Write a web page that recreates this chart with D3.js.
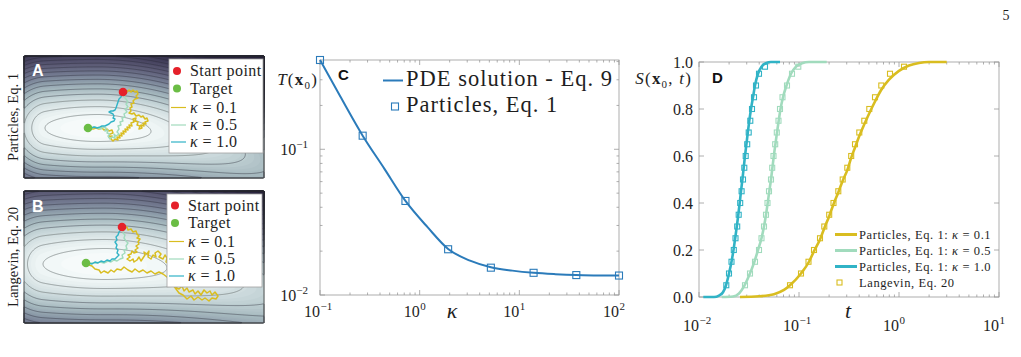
<!DOCTYPE html>
<html><head><meta charset="utf-8">
<script src="https://cdn.jsdelivr.net/npm/d3@7"></script>
<style>body{margin:0;background:#fff}svg{display:block}</style>
</head><body>
<svg id="fig" width="1021" height="357"></svg>
<script>
// ---------------- DATA ----------------
// Panel C
const kappaParticles = [0.1, 0.268, 0.72, 1.93, 5.18, 13.9, 37.3, 100];
const tParticles = [0.41, 0.124, 0.0442, 0.0206, 0.0154, 0.0142, 0.0137, 0.0136];
const kappaPDE = [0.1, 0.16, 0.268, 0.44, 0.72, 1.2, 1.93, 3.2, 5.18, 8.5, 13.9, 23, 37.3, 61, 100];
const tPDE = [0.41, 0.23, 0.124, 0.074, 0.0442, 0.0292, 0.0207, 0.0172, 0.0155, 0.0147, 0.0142, 0.0139, 0.0137, 0.0136, 0.0136];
const cXTicks = [0.1, 1, 10, 100];
const cXTickExp = ["\u22121", "0", "1", "2"];
const cYTicks = [0.01, 0.1];
const cYTickExp = ["\u22122", "\u22121"];

// Panel D (times given as log10 t)
const survivalMarks = [0.05,0.10,0.15,0.20,0.25,0.30,0.35,0.40,0.45,0.50,0.55,0.60,0.65,0.70,0.75,0.80,0.85,0.90,0.95,0.98];
const langevinLogT_k01 = [-1.09,-0.98,-0.905,-0.85,-0.79,-0.747,-0.698,-0.655,-0.607,-0.563,-0.517,-0.478,-0.44,-0.397,-0.347,-0.297,-0.24,-0.177,-0.09,0.05];
const langevinLogT_k05 = [-1.54,-1.49,-1.44,-1.40,-1.375,-1.35,-1.33,-1.315,-1.30,-1.28,-1.268,-1.255,-1.238,-1.222,-1.205,-1.19,-1.165,-1.12,-1.07,-1.007];
const langevinLogT_k10 = [-1.727,-1.70,-1.675,-1.652,-1.635,-1.618,-1.603,-1.588,-1.574,-1.56,-1.547,-1.533,-1.518,-1.503,-1.487,-1.47,-1.45,-1.43,-1.40,-1.34];

const curveLogT_k01 = [-1.59,-1.4,-1.25,-1.15,-1.09,-0.98,-0.90,-0.85,-0.79,-0.745,-0.697,-0.655,-0.607,-0.563,-0.517,-0.48,-0.44,-0.397,-0.347,-0.297,-0.24,-0.18,-0.10,0.0,0.1,0.2,0.3,0.477];
const curveS_k01    = [0,0.003,0.012,0.03,0.05,0.10,0.15,0.195,0.245,0.295,0.345,0.395,0.445,0.495,0.54,0.59,0.636,0.685,0.735,0.782,0.832,0.88,0.925,0.962,0.985,0.996,1.0,1.0];
const curveLogT_k05 = [-1.773,-1.66,-1.6,-1.55,-1.5,-1.45,-1.41,-1.375,-1.35,-1.33,-1.313,-1.297,-1.28,-1.266,-1.252,-1.236,-1.22,-1.203,-1.185,-1.16,-1.125,-1.08,-1.03,-0.97,-0.9,-0.723];
const curveS_k05    = [0,0.002,0.015,0.045,0.09,0.145,0.2,0.25,0.3,0.35,0.4,0.45,0.5,0.55,0.6,0.65,0.7,0.75,0.8,0.85,0.9,0.95,0.98,0.995,1.0,1.0];
const curveLogT_k10 = [-1.957,-1.85,-1.8,-1.76,-1.73,-1.70,-1.675,-1.655,-1.638,-1.622,-1.607,-1.593,-1.58,-1.566,-1.553,-1.54,-1.526,-1.512,-1.497,-1.48,-1.46,-1.44,-1.41,-1.375,-1.33,-1.28,-1.19];
const curveS_k10    = [0,0,0.006,0.02,0.05,0.1,0.15,0.2,0.25,0.3,0.35,0.4,0.45,0.5,0.55,0.6,0.65,0.7,0.75,0.8,0.85,0.9,0.95,0.98,0.995,1.0,1.0];
const dXTicks = [0.01, 0.1, 1, 10];
const dXTickExp = ["\u22122", "\u22121", "0", "1"];
const dYTicks = [0, 0.2, 0.4, 0.6, 0.8, 1.0];
const dYTickLabels = ["0.0", "0.2", "0.4", "0.6", "0.8", "1.0"];
const dLegendLabels = ["0.1", "0.5", "1.0"];

// Panels A/B: potential landscape parameters (image units) and contour levels
const wellA = {cx: 74, cy: 72, ax: 53, by: 13.5, bend: 0.25, steepL: 16, pr: 1.8};
const wellB = {cx: 81, cy: 73, ax: 62, by: 15.5, bend: 0.25, steepL: 16, pr: 1.8};
const contourLevels = [1, 2.5, 4.3, 6.3, 8.4, 10.7, 13, 15.4, 17.9, 20.5, 23.1, 25.8, 28.5, 31.3, 34.1, 37, 40, 43, 46, 49, 52, 55, 58, 61, 64];
const startA = [99, 36], targetA = [64, 72];
const startB = [98, 36], targetB = [62, 72];
const trajA_k01 = [[99,36],[101,34],[103,36],[105,34],[107,36],[109,34],[111,36],[113,35],[114,38],[112,40],[114,42],[111,43],[109,45],[110,47],[107,48],[108,51],[106,52],[107,55],[105,57],[108,58],[110,57],[112,60],[115,59],[117,61],[119,60],[121,63],[123,62],[124,65],[121,66],[122,68],[119,67],[120,70],[117,69],[118,72],[115,73],[116,70],[113,69],[114,66],[111,65],[112,62],[109,63],[110,66],[107,67],[108,70],[105,69],[106,72],[103,71],[104,74],[101,73],[102,76],[99,75],[100,78],[97,77],[98,80],[95,79],[96,82],[93,81],[94,84],[91,83],[89,85],[87,83],[88,80],[85,81],[86,78],[89,77],[88,74],[85,75],[83,73],[80,74],[78,72],[75,73],[72,72],[69,73],[66,72],[64,72]];
const trajA_k05 = [[99,36],[101,39],[100,41],[102,43],[104,46],[102,48],[104,51],[101,53],[103,56],[100,58],[101,61],[98,62],[99,65],[96,66],[97,69],[94,70],[95,73],[93,76],[95,78],[92,80],[90,78],[91,82],[88,81],[86,83],[84,80],[86,78],[83,77],[84,74],[81,75],[82,72],[79,71],[77,73],[74,72],[71,71],[68,72],[64,72]];
const trajA_k10 = [[99,36],[98,38],[97,41],[95,43],[94,46],[93,49],[92,52],[91,54],[89,55],[87,55],[85,56],[87,57],[89,58],[90,60],[89,62],[91,63],[90,65],[87,66],[85,68],[83,69],[81,70],[78,70],[76,71],[73,72],[70,71],[67,72],[64,72]];
const trajB_k01 = [[98,36],[100,38],[103,36],[104,39],[107,38],[109,41],[112,40],[113,43],[115,45],[113,47],[116,48],[114,51],[115,53],[112,55],[114,57],[111,59],[113,61],[110,62],[108,60],[107,63],[104,64],[106,66],[103,68],[106,70],[109,68],[110,71],[113,69],[115,66],[117,70],[119,67],[121,64],[120,61],[123,63],[125,60],[124,66],[127,68],[129,64],[132,66],[131,62],[134,60],[137,63],[135,66],[139,68],[141,64],[143,67],[142,71],[145,73],[146,77],[149,80],[147,84],[150,87],[152,92],[151,96],[155,98],[158,95],[160,100],[163,97],[165,101],[169,99],[171,103],[174,100],[177,104],[180,99],[183,102],[186,100],[188,104],[191,101],[194,105],[192,108],[188,107],[185,110],[181,107],[178,109],[174,106],[170,109],[167,105],[163,108],[159,104],[155,102],[152,98],[149,94],[146,90],[143,86],[139,83],[135,81],[131,83],[127,80],[123,82],[119,79],[115,81],[111,78],[108,81],[104,79],[100,76],[97,79],[93,78],[90,81],[87,79],[84,82],[80,80],[77,82],[75,79],[71,78],[68,75],[65,74],[62,72]];
const trajB_k05 = [[98,36],[100,39],[99,42],[101,44],[100,47],[102,50],[104,52],[102,55],[103,58],[100,59],[101,62],[98,64],[99,67],[96,68],[93,70],[90,69],[87,71],[84,70],[80,72],[76,71],[72,72],[68,72],[65,73],[62,72]];
const trajB_k10 = [[98,36],[97,39],[95,41],[94,44],[92,46],[93,49],[91,51],[93,54],[92,57],[94,59],[93,62],[95,64],[93,66],[91,68],[88,68],[86,70],[83,69],[80,71],[77,70],[74,72],[71,71],[68,73],[65,72],[62,72]];

// ---------------- STYLE ----------------
const SERIF = "'Liberation Serif','Times New Roman',serif";
const SANS = "'Liberation Sans',Arial,sans-serif";
const YEL = "#d9bd20", GRN = "#a1dbbd", CYN = "#31b3c6", BLU = "#2b7bba";
const AXC = "#9a9a9a", TXT = "#1e1e1e";

const svg = d3.select("#fig");

// ---------------- PANELS A & B ----------------
const potColor = d3.scaleLinear()
  .domain([0, 1, 2.5, 5, 8, 12, 16, 21, 27, 34, 44])
  .range(['#f6fafa','#eef5f5','#dfe9ea','#c6d5d8','#a9bcc1','#8b9aa8','#737a90','#5f5f79','#4a4763','#37324d','#28233c'])
  .clamp(true);

function potential(ix, iy, w) {
  const u = (ix - w.cx) / w.ax, v = (iy - w.cy) / w.by;
  let fx;
  if (u < 0) { const a = -u; fx = a <= 1 ? a * a : 1 + 2 * (a - 1) + w.steepL * (a - 1) * (a - 1); }
  else fx = Math.pow(u, w.pr);
  const dv = v - (u > 0 ? w.bend * u * u : 0);
  return fx + dv * dv;
}

function drawLandscape(cfg) {
  const g = svg.append("g");
  const x = d3.scaleLinear().domain([0, cfg.w]).range([cfg.x0, cfg.x0 + cfg.w]);
  const y = d3.scaleLinear().domain([0, cfg.h]).range([cfg.y0, cfg.y0 + cfg.h]);
  const vals = new Float64Array(cfg.w * cfg.h);
  for (let j = 0; j < cfg.h; j++)
    for (let i = 0; i < cfg.w; i++) vals[j * cfg.w + i] = potential(i + 0.5, j + 0.5, cfg.well);
  const proj = d3.geoIdentity().scale(x(1) - x(0)).translate([x(0), y(0)]);
  const path = d3.geoPath(proj);
  const bands = d3.contours().size([cfg.w, cfg.h]).thresholds(d3.range(0, 70, 0.5))(vals);
  g.append("g").selectAll("path").data(bands).join("path")
    .attr("d", path).attr("fill", d => potColor(d.value)).attr("stroke", "none");
  const lines = d3.contours().size([cfg.w, cfg.h]).thresholds(contourLevels)(vals);
  g.append("g").selectAll("path").data(lines).join("path")
    .attr("d", path).attr("fill", "none")
    .attr("stroke", d => d.value < 6 ? "#6d7474" : "#262634")
    .attr("stroke-opacity", d => d.value < 6 ? 0.8 : 0.55).attr("stroke-width", 0.8);

  const line = d3.line().x(d => x(d[0])).y(d => y(d[1]));
  [[cfg.trajs[0], YEL, 1.5], [cfg.trajs[1], GRN, 1.4], [cfg.trajs[2], CYN, 1.4]].forEach(([tr, c, w]) => {
    g.append("path").datum(tr).attr("d", line).attr("fill", "none")
      .attr("stroke", c).attr("stroke-width", w).attr("stroke-linejoin", "round");
  });
  g.append("circle").attr("cx", x(cfg.target[0])).attr("cy", y(cfg.target[1])).attr("r", 4.3).attr("fill", "#6bbd45");
  g.append("circle").attr("cx", x(cfg.start[0])).attr("cy", y(cfg.start[1])).attr("r", 4.3).attr("fill", "#e5202a");

  g.append("text").attr("x", cfg.x0 + 8).attr("y", cfg.letterY).text(cfg.letter)
    .attr("font-family", SANS).attr("font-weight", "bold").attr("font-size", 16).attr("fill", "#fff");
  g.append("text").attr("transform", `translate(17.5,${cfg.y0 + cfg.h / 2}) rotate(-90)`)
    .attr("text-anchor", "middle").attr("font-family", SERIF).attr("font-size", 14.5).attr("fill", TXT)
    .text(cfg.side);

  const L = cfg.legend;
  g.append("rect").attr("x", L.x).attr("y", L.y).attr("width", L.w).attr("height", L.h)
    .attr("fill", "#fff").attr("stroke", "#a0a0a0").attr("stroke-width", 0.8);
  const items = [
    {type: "dot", color: "#e5202a", label: "Start point"},
    {type: "dot", color: "#6bbd45", label: "Target"},
    {type: "line", color: YEL, k: "0.1"},
    {type: "line", color: GRN, k: "0.5"},
    {type: "line", color: CYN, k: "1.0"}
  ];
  items.forEach((it, i) => {
    const cy = L.rows[i];
    if (it.type === "dot") g.append("circle").attr("cx", L.x + 8).attr("cy", cy).attr("r", 4).attr("fill", it.color);
    else g.append("line").attr("x1", L.x + 2).attr("x2", L.x + 17).attr("y1", cy).attr("y2", cy)
      .attr("stroke", it.color).attr("stroke-width", 1.2);
    const t = g.append("text").attr("x", L.x + 21).attr("y", cy + 5.2)
      .attr("font-family", SERIF).attr("font-size", 16).attr("letter-spacing", 0.4).attr("fill", TXT);
    if (it.label) t.text(it.label);
    else { t.append("tspan").attr("font-style", "italic").text("\u03ba"); t.append("tspan").text(" = " + it.k); }
  });
}

drawLandscape({x0: 24, y0: 56, w: 240, h: 122, well: wellA, trajs: [trajA_k01, trajA_k05, trajA_k10],
  start: startA, target: targetA, letter: "A", letterY: 76, side: "Particles, Eq. 1",
  legend: {x: 169, y: 59, w: 94, h: 94, rows: [71, 88.5, 107.5, 125, 142]}});
drawLandscape({x0: 24, y0: 191, w: 240, h: 132, well: wellB, trajs: [trajB_k01, trajB_k05, trajB_k10],
  start: startB, target: targetB, letter: "B", letterY: 212, side: "Langevin, Eq. 20",
  legend: {x: 167, y: 194, w: 95, h: 93, rows: [205.5, 223, 241.5, 259, 276]}});

// ---------------- helpers ----------------
function tickLines(g, list) {
  g.selectAll(null).data(list).join("line")
    .attr("x1", d => d[0]).attr("y1", d => d[1]).attr("x2", d => d[2]).attr("y2", d => d[3])
    .attr("stroke", AXC).attr("stroke-width", 0.8);
}
function isDecade(v) { const l = Math.log10(v); return Math.abs(l - Math.round(l)) < 1e-6; }
function xPowLabel(g, x, y, exp) {
  g.append("text").attr("x", x).attr("y", y).attr("text-anchor", "end")
    .attr("font-family", SERIF).attr("font-size", 16).attr("fill", TXT).text("10");
  g.append("text").attr("x", x + 0.5).attr("y", y - 7).attr("text-anchor", "start")
    .attr("font-family", SERIF).attr("font-size", 11).attr("fill", TXT).text(exp);
}

// ---------------- PANEL C ----------------
{
  const g = svg.append("g");
  const x = d3.scaleLog().domain([0.1, 100]).range([320, 619]);
  const y = d3.scaleLog().domain([0.01, 0.41]).range([295, 60]);
  const [X0, X1] = x.range(), [Y0, Y1] = y.range();
  g.append("rect").attr("x", X0).attr("y", Y1).attr("width", X1 - X0).attr("height", Y0 - Y1)
    .attr("fill", "none").attr("stroke", AXC).attr("stroke-width", 0.8);
  const tl = [];
  x.ticks().forEach(v => { const L = isDecade(v) ? 5 : 2.5; tl.push([x(v), Y0, x(v), Y0 - L], [x(v), Y1, x(v), Y1 + L]); });
  y.ticks().forEach(v => { const L = isDecade(v) ? 5 : 2.5; tl.push([X0, y(v), X0 + L, y(v)], [X1, y(v), X1 - L, y(v)]); });
  tickLines(g, tl);
  cXTicks.forEach((v, i) => xPowLabel(g, x(v), 317, cXTickExp[i]));
  cYTicks.forEach((v, i) => {
    const t = g.append("text").attr("x", 308).attr("y", y(v) + 6).attr("text-anchor", "end")
      .attr("font-family", SERIF).attr("font-size", 16).attr("fill", TXT);
    t.append("tspan").text("10");
    t.append("tspan").attr("dy", -7).attr("font-size", 11).text(cYTickExp[i]);
  });
  g.append("text").attr("x", 452).attr("y", 318).attr("text-anchor", "middle")
    .attr("font-family", SERIF).attr("font-style", "italic").attr("font-size", 22).attr("fill", TXT).text("\u03ba");
  const ty = g.append("text").attr("x", 318).attr("y", 85).attr("text-anchor", "end")
    .attr("font-family", SERIF).attr("font-size", 17).attr("letter-spacing", 1.2).attr("fill", TXT);
  ty.append("tspan").attr("font-style", "italic").text("T");
  ty.append("tspan").text("(");
  ty.append("tspan").attr("font-weight", "bold").text("x");
  ty.append("tspan").attr("font-size", 11).attr("dy", 4).text("0");
  ty.append("tspan").attr("dy", -4).text(")");
  g.append("text").attr("x", 338).attr("y", 80).attr("font-family", SANS).attr("font-weight", "bold")
    .attr("font-size", 15).attr("fill", "#111").text("C");

  const line = d3.line().x((d, i) => x(kappaPDE[i])).y(d => y(d)).curve(d3.curveMonotoneX);
  g.append("path").datum(tPDE).attr("d", line).attr("fill", "none").attr("stroke", BLU).attr("stroke-width", 2);
  g.selectAll(null).data(tParticles).join("rect")
    .attr("x", (d, i) => x(kappaParticles[i]) - 3.5).attr("y", d => y(d) - 3.5)
    .attr("width", 7).attr("height", 7).attr("fill", "none").attr("stroke", BLU).attr("stroke-width", 1.1);

  g.append("line").attr("x1", 383).attr("x2", 403).attr("y1", 80.5).attr("y2", 80.5).attr("stroke", BLU).attr("stroke-width", 2);
  g.append("text").attr("x", 406).attr("y", 86).attr("font-family", SERIF).attr("font-size", 22.5)
    .attr("letter-spacing", 1.0).attr("fill", TXT).text("PDE solution - Eq. 9");
  g.append("rect").attr("x", 391.5).attr("y", 103).attr("width", 7).attr("height", 7)
    .attr("fill", "none").attr("stroke", BLU).attr("stroke-width", 1.1);
  g.append("text").attr("x", 406).attr("y", 112).attr("font-family", SERIF).attr("font-size", 22.5)
    .attr("letter-spacing", 1.0).attr("fill", TXT).text("Particles, Eq. 1");
}

// ---------------- PANEL D ----------------
{
  const g = svg.append("g");
  const x = d3.scaleLog().domain([0.01, 10]).range([699, 999]);
  const y = d3.scaleLinear().domain([0, 1]).range([297, 62]);
  const [X0, X1] = x.range(), [Y0, Y1] = y.range();
  g.append("rect").attr("x", X0).attr("y", Y1).attr("width", X1 - X0).attr("height", Y0 - Y1)
    .attr("fill", "none").attr("stroke", AXC).attr("stroke-width", 0.8);
  const tl = [];
  x.ticks().forEach(v => { const L = isDecade(v) ? 5 : 2.5; tl.push([x(v), Y0, x(v), Y0 - L], [x(v), Y1, x(v), Y1 + L]); });
  dYTicks.forEach(v => tl.push([X0, y(v), X0 + 5, y(v)], [X1, y(v), X1 - 5, y(v)]));
  tickLines(g, tl);
  dXTicks.forEach((v, i) => xPowLabel(g, x(v), 331, dXTickExp[i]));
  dYTicks.forEach((v, i) => g.append("text").attr("x", 693).attr("y", y(v) + 5.5).attr("text-anchor", "end")
    .attr("font-family", SERIF).attr("font-size", 16).attr("fill", TXT).text(dYTickLabels[i]));
  g.append("text").attr("x", 848).attr("y", 318).attr("text-anchor", "middle")
    .attr("font-family", SERIF).attr("font-style", "italic").attr("font-size", 22).attr("fill", TXT).text("t");
  const sy = g.append("text").attr("x", 692).attr("y", 84).attr("text-anchor", "end")
    .attr("font-family", SERIF).attr("font-size", 17).attr("letter-spacing", 1.2).attr("fill", TXT);
  sy.append("tspan").attr("font-style", "italic").text("S");
  sy.append("tspan").text("(");
  sy.append("tspan").attr("font-weight", "bold").text("x");
  sy.append("tspan").attr("font-size", 11).attr("dy", 4).text("0");
  sy.append("tspan").attr("dy", -4).text(", ");
  sy.append("tspan").attr("font-style", "italic").text("t");
  sy.append("tspan").text(")");
  g.append("text").attr("x", 712).attr("y", 83).attr("font-family", SANS).attr("font-weight", "bold")
    .attr("font-size", 15).attr("fill", "#111").text("D");

  const series = [
    {lt: curveLogT_k01, s: curveS_k01, m: langevinLogT_k01, color: YEL},
    {lt: curveLogT_k05, s: curveS_k05, m: langevinLogT_k05, color: GRN},
    {lt: curveLogT_k10, s: curveS_k10, m: langevinLogT_k10, color: CYN}
  ];
  series.forEach(sr => {
    const line = d3.line().x(d => x(Math.pow(10, d))).y((d, i) => y(sr.s[i])).curve(d3.curveMonotoneX);
    g.append("path").datum(sr.lt).attr("d", line).attr("fill", "none").attr("stroke", sr.color).attr("stroke-width", 2.6);
  });
  series.forEach(sr => {
    g.selectAll(null).data(sr.m).join("rect")
      .attr("x", d => x(Math.pow(10, d)) - 2.5).attr("y", (d, i) => y(survivalMarks[i]) - 2.5)
      .attr("width", 5).attr("height", 5).attr("fill", "none").attr("stroke", sr.color).attr("stroke-width", 1.1);
  });

  const rows = [234.5, 250.5, 266.5, 282.5];
  [YEL, GRN, CYN].forEach((c, i) => {
    g.append("line").attr("x1", 835).attr("x2", 857).attr("y1", rows[i]).attr("y2", rows[i]).attr("stroke", c).attr("stroke-width", 3);
    const t = g.append("text").attr("x", 859).attr("y", rows[i] + 4.3).attr("font-family", SERIF)
      .attr("font-size", 12.5).attr("letter-spacing", 0.6).attr("fill", TXT);
    t.append("tspan").text("Particles, Eq. 1: ");
    t.append("tspan").attr("font-style", "italic").text("\u03ba");
    t.append("tspan").text(" = " + dLegendLabels[i]);
  });
  g.append("rect").attr("x", 837).attr("y", rows[3] - 2.5).attr("width", 5).attr("height", 5)
    .attr("fill", "none").attr("stroke", YEL).attr("stroke-width", 1.1);
  g.append("text").attr("x", 859).attr("y", rows[3] + 4.3).attr("font-family", SERIF)
    .attr("font-size", 12.5).attr("letter-spacing", 0.6).attr("fill", TXT).text("Langevin, Eq. 20");
}

svg.append("text").attr("x", 1006).attr("y", 20).attr("text-anchor", "middle")
  .attr("font-family", SERIF).attr("font-size", 14).attr("fill", TXT).text("5");
</script>
</body></html>
